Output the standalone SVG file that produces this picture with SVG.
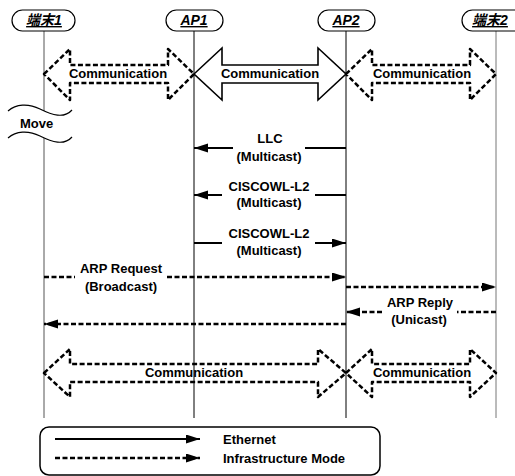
<svg xmlns="http://www.w3.org/2000/svg" width="515" height="476" viewBox="0 0 515 476">
<style>
text{font-family:"Liberation Sans","Noto Sans CJK JP",sans-serif;font-weight:bold;font-size:13px;fill:#000}
.hdr{font-style:italic;text-decoration:underline;font-size:14px}
.pill{fill:#fff;stroke:#000;stroke-width:1.2}
.life{stroke:#000;stroke-width:1;fill:none}
.comm{fill:none;stroke:#000;stroke-width:2.5;stroke-dasharray:5 2.5;stroke-linejoin:round}
.commS{fill:#fff;stroke:#000;stroke-width:1.6;stroke-linejoin:miter}
.sol{stroke:#000;stroke-width:2;fill:none}
.dsh{stroke:#000;stroke-width:2.5;stroke-dasharray:5 2.5;fill:none}
.m{text-anchor:middle}
</style>
<defs>
<marker id="ah" markerUnits="userSpaceOnUse" markerWidth="15" markerHeight="10" refX="14" refY="4.5" orient="auto">
<path d="M0,0 L14,4.5 L0,9 z" fill="#000"/>
</marker>
</defs>
<rect width="515" height="476" fill="#fff"/>

<g id="lifelines">
<line class="life" x1="44" y1="31" x2="44" y2="418" stroke="#555" style="stroke:#555"/>
<line class="life" x1="194" y1="31" x2="194" y2="418"/>
<line class="life" x1="346" y1="31" x2="346" y2="418"/>
<line class="life" x1="496" y1="31" x2="496" y2="418" style="stroke:#777"/>
</g>

<g id="node-t1"><rect class="pill" x="12" y="10" width="63" height="21" rx="10.5"/><text class="hdr m" x="44" y="25">端末1</text></g>
<g id="node-ap1"><rect class="pill" x="166" y="10" width="57" height="21" rx="10.5"/><text class="hdr m" x="194" y="25">AP1</text></g>
<g id="node-ap2"><rect class="pill" x="318" y="10" width="57" height="21" rx="10.5"/><text class="hdr m" x="346" y="25">AP2</text></g>
<g id="node-t2"><rect class="pill" x="462" y="10" width="70" height="21" rx="10.5"/><text class="hdr m" x="490" y="25">端末2</text></g>

<g id="move">
<path d="M8,111 C16,104 28,103 40,109 C52,115 64,119 72,110 L72,137 C64,146 52,142 40,136 C28,130 16,131 8,138 Z" fill="#fff"/>
<path d="M8,111 C16,104 28,103 40,109 C52,115 64,119 72,110" fill="none" stroke="#000" stroke-width="1.2"/>
<path d="M8,138 C16,131 28,130 40,136 C52,142 64,146 72,137" fill="none" stroke="#000" stroke-width="1.2"/>
<text x="20" y="128">Move</text>
</g>

<g id="connectors">
<!-- top row communication -->
<polygon class="comm" points="44,74 70,49 70,65 168,65 168,49 194,74 168,100 168,83 70,83 70,100"/>
<polygon class="commS" points="194,74 222,48 222,65 318,65 318,48 346,74 318,100 318,83 222,83 222,100"/>
<polygon class="comm" points="346,74 372,49 372,65 470,65 470,49 496,74 470,100 470,83 372,83 372,100"/>
<text class="m" x="118" y="78">Communication</text>
<text class="m" x="270" y="78">Communication</text>
<text class="m" x="422" y="78">Communication</text>

<!-- LLC -->
<line class="sol" x1="346" y1="148" x2="305" y2="148"/>
<line class="sol" x1="233" y1="148" x2="194" y2="148" marker-end="url(#ah)"/>
<text class="m" x="270" y="143">LLC</text>
<text class="m" x="269" y="161">(Multicast)</text>

<!-- CISCOWL-L2 #1 -->
<line class="sol" x1="346" y1="195" x2="315" y2="195"/>
<line class="sol" x1="222" y1="195" x2="194" y2="195" marker-end="url(#ah)"/>
<text class="m" x="269" y="191">CISCOWL-L2</text>
<text class="m" x="269" y="207">(Multicast)</text>

<!-- CISCOWL-L2 #2 -->
<line class="sol" x1="194" y1="243" x2="222" y2="243"/>
<line class="sol" x1="315" y1="243" x2="346" y2="243" marker-end="url(#ah)"/>
<text class="m" x="269" y="238">CISCOWL-L2</text>
<text class="m" x="269" y="255">(Multicast)</text>

<!-- ARP Request -->
<line class="dsh" x1="44" y1="277" x2="75" y2="277"/>
<line class="dsh" x1="167" y1="277" x2="346" y2="277" marker-end="url(#ah)"/>
<text class="m" x="121" y="273">ARP Request</text>
<text class="m" x="121" y="291">(Broadcast)</text>

<line class="dsh" x1="346" y1="287" x2="496" y2="287" marker-end="url(#ah)"/>

<!-- ARP Reply -->
<line class="dsh" x1="496" y1="312" x2="457" y2="312"/>
<line class="dsh" x1="382" y1="312" x2="346" y2="312" marker-end="url(#ah)"/>
<text class="m" x="420" y="307">ARP Reply</text>
<text class="m" x="419" y="324">(Unicast)</text>

<line class="dsh" x1="346" y1="324" x2="44" y2="324" marker-end="url(#ah)"/>

<!-- bottom row communication -->
<polygon class="comm" points="44,373 70,349 70,364 318,364 318,349 346,373 318,397 318,382 70,382 70,397"/>
<polygon class="comm" points="346,373 372,349 372,364 470,364 470,349 496,373 470,397 470,382 372,382 372,397"/>
<text class="m" x="194" y="377">Communication</text>
<text class="m" x="422" y="377">Communication</text>
</g>

<g id="legend">
<rect x="40" y="427" width="340" height="48" rx="9" fill="#fff" stroke="#000" stroke-width="1.5"/>
<line class="sol" x1="55" y1="439" x2="200" y2="439" marker-end="url(#ah)"/>
<line class="dsh" x1="55" y1="458" x2="200" y2="458" marker-end="url(#ah)"/>
<text x="223" y="444">Ethernet</text>
<text x="223" y="463">Infrastructure Mode</text>
</g>
</svg>
